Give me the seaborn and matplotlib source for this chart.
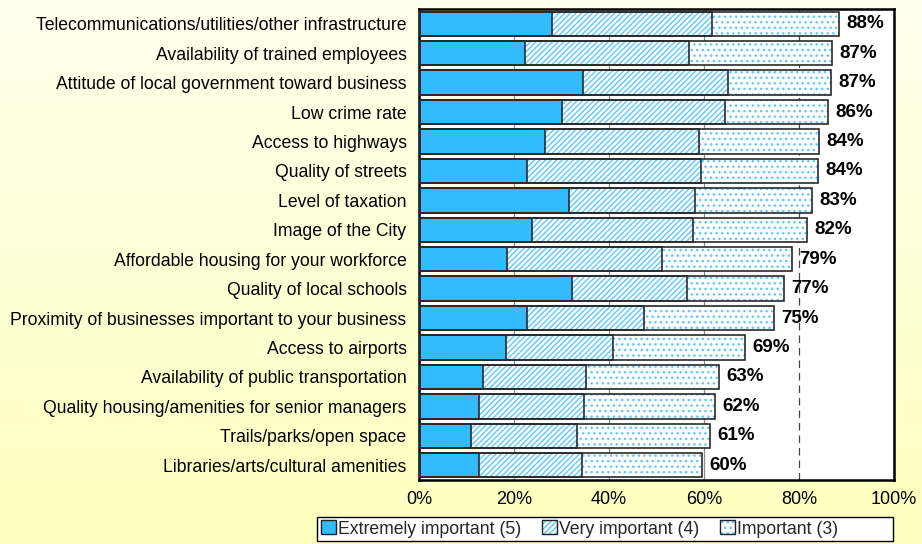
#!/usr/bin/env python3
import numpy as np
import pandas as pd
import matplotlib
matplotlib.use("Agg")
import matplotlib.pyplot as plt
import seaborn as sns
from matplotlib.colors import LinearSegmentedColormap
from matplotlib.patches import Patch, Rectangle

# values (percent of respondents)
factors = [
    "Telecommunications/utilities/other infrastructure",
    "Availability of trained employees",
    "Attitude of local government toward business",
    "Low crime rate",
    "Access to highways",
    "Quality of streets",
    "Level of taxation",
    "Image of the City",
    "Affordable housing for your workforce",
    "Quality of local schools",
    "Proximity of businesses important to your business",
    "Access to airports",
    "Availability of public transportation",
    "Quality housing/amenities for senior managers",
    "Trails/parks/open space",
    "Libraries/arts/cultural amenities",
]
extremely = [28.1, 22.4, 34.5, 30.2, 26.5, 22.7, 31.5, 23.8, 18.5, 32.3, 22.8, 18.3, 13.4, 12.6, 11.0, 12.6]
very = [33.6, 34.5, 30.6, 34.3, 32.5, 36.6, 26.7, 33.9, 32.7, 24.2, 24.5, 22.5, 21.7, 22.1, 22.3, 21.7]
important = [26.7, 30.0, 21.6, 21.7, 25.3, 24.8, 24.5, 24.0, 27.4, 20.3, 27.5, 27.8, 28.1, 27.6, 28.0, 25.3]
total_labels = ["88%", "87%", "87%", "86%", "84%", "84%", "83%", "82%",
                "79%", "77%", "75%", "69%", "63%", "62%", "61%", "60%"]
legend_labels = ["Extremely important (5)", "Very important (4)", "Important (3)"]

df = pd.DataFrame({"factor": factors, "ext": extremely, "very": very, "imp": important})
df["cum_very"] = df["ext"] + df["very"]
df["total"] = df["cum_very"] + df["imp"]

sns.set_theme(style="white")
plt.rcParams["font.family"] = ["Liberation Sans", "DejaVu Sans"]
plt.rcParams["hatch.linewidth"] = 1.0

W, H = 922, 544
fig = plt.figure(figsize=(W / 100, H / 100), dpi=100)

# pale yellow gradient background
bg = fig.add_axes([0, 0, 1, 1], zorder=-10)
grad = np.linspace(0, 1, 256).reshape(-1, 1)
cmap = LinearSegmentedColormap.from_list("bg", ["#FFFFEE", "#FFFFBE"])
bg.imshow(grad, aspect="auto", cmap=cmap, extent=[0, 1, 0, 1])
bg.axis("off")

ax = fig.add_axes([419 / W, 1 - 480 / H, 475 / W, 471 / H])
ax.set_facecolor("white")

blue = "#33BBFF"
hatch_blue = "#5CC8FF"
bar_w = 0.83

# stacked bars: draw cumulative layers back to front
layers = [("total", "white", hatch_blue, "..."),
          ("cum_very", "white", hatch_blue, "//////"),
          ("ext", blue, blue, None)]
for col, fc, ec, h in layers:
    sns.barplot(data=df, x=col, y="factor", orient="h", color=fc, saturation=1,
                width=bar_w, errorbar=None, ax=ax, edgecolor=ec, linewidth=0,
                hatch=h, zorder=2)
# dark outlines for each segment
for col in ["total", "cum_very", "ext"]:
    sns.barplot(data=df, x=col, y="factor", orient="h", color="#2a2a2a",
                fill=False, width=bar_w, errorbar=None, ax=ax, linewidth=1.2,
                zorder=3)

for i, (t, lab) in enumerate(zip(df["total"], total_labels)):
    ax.text(t + 1.5, i, lab, va="center", ha="left", fontsize=13.5,
            fontweight="bold", color="black", zorder=4)

ax.set_xlim(0, 100)
ax.set_ylim(15.5, -0.5)
ax.set_xticks(range(0, 101, 20))
ax.set_xticklabels([f"{v}%" for v in range(0, 101, 20)], fontsize=13)
ax.set_yticks(range(len(factors)))
ax.set_yticklabels(factors, fontsize=12.7)
ax.set_xlabel("")
ax.set_ylabel("")
ax.tick_params(axis="both", length=0, colors="black")
ax.tick_params(axis="y", pad=9)
ax.tick_params(axis="x", pad=8)

ax.set_axisbelow(True)
ax.xaxis.grid(True, color="#8a8a8a", linewidth=0.9, zorder=0)
grid_lines = ax.get_xgridlines()
grid_lines[4].set_linestyle((0, (6, 4)))
grid_lines[4].set_color("#444444")
for s in ax.spines.values():
    s.set_visible(True)
    s.set_color("black")
    s.set_linewidth(1.8)

# legend in a framed white box under the chart
fig.add_artist(Rectangle((317 / W, 1 - 541 / H), (893 - 317) / W, 24 / H,
                         transform=fig.transFigure, facecolor="white",
                         edgecolor="black", linewidth=1.0))
handles = [
    Patch(facecolor=blue, edgecolor="#222222", linewidth=1.0),
    (Patch(facecolor="white", edgecolor=hatch_blue, hatch="//////", linewidth=0),
     Patch(fill=False, edgecolor="#222222", linewidth=1.0)),
    (Patch(facecolor="white", edgecolor=hatch_blue, hatch="...", linewidth=0),
     Patch(fill=False, edgecolor="#222222", linewidth=1.0)),
]
fig.legend(handles, legend_labels, loc="center left",
           bbox_to_anchor=(321 / W, 1 - 529 / H), ncol=3, frameon=False,
           fontsize=12.7, handlelength=0.85, handleheight=0.85,
           handletextpad=0.1, columnspacing=1.2, borderpad=0,
           borderaxespad=0)

fig.savefig("out.png", dpi=100)
